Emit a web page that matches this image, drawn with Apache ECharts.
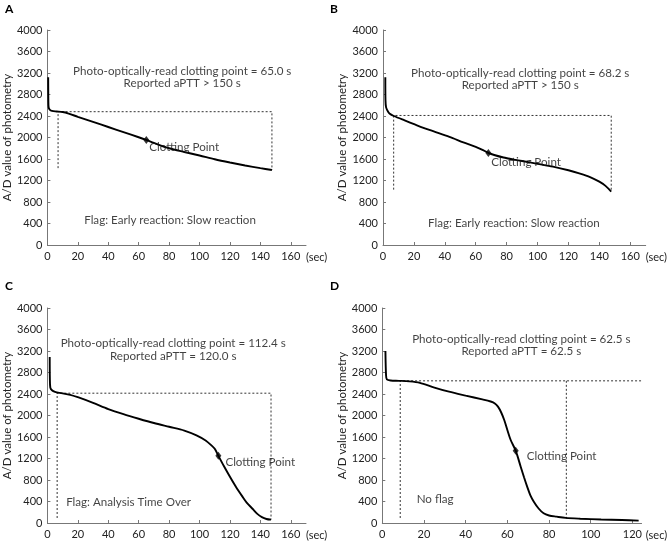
<!DOCTYPE html>
<html><head><meta charset="utf-8">
<script src="https://cdn.jsdelivr.net/npm/echarts@6/dist/echarts.min.js"></script>
<style>html,body{margin:0;padding:0;background:#fff}#c{width:668px;height:546px}</style>
</head><body><div id="c"></div>
<script>
// ---------- data ----------
var yTicks = [0, 400, 800, 1200, 1600, 2000, 2400, 2800, 3200, 3600, 4000];
var panelLabels = ['A', 'B', 'C', 'D'];
var xMax = [170, 170, 170, 124.4];

// Panel A
var timeA = [0.5, 0.6, 0.8, 1.5, 3, 6, 10, 14, 20, 30, 40, 50, 60, 65, 70, 80, 90, 100, 110, 120, 130, 140, 147.6];
var adA   = [3120, 2700, 2560, 2520, 2495, 2485, 2475, 2445, 2385, 2290, 2195, 2100, 2005, 1955, 1900, 1800, 1730, 1665, 1595, 1535, 1480, 1430, 1395];
var bracketA_x = [7, 7, 147.6, 147.6];
var bracketA_y = [1430, 2480, 2480, 1395];
var clotA = [65, 1955];
var textA = ['Photo-optically-read clotting point = 65.0 s', 'Reported aPTT > 150 s', 'Clotting Point', 'Flag: Early reaction: Slow reaction'];

// Panel B
var timeB = [1.5, 1.6, 2, 3.5, 5, 7, 14, 21, 30, 43, 52, 60, 64, 68.2, 72, 78, 85, 90, 100, 110, 120, 127, 134, 140, 144, 147.7];
var adB   = [3120, 2700, 2560, 2470, 2430, 2400, 2318, 2238, 2140, 2012, 1910, 1825, 1775, 1715, 1675, 1628, 1588, 1562, 1510, 1457, 1390, 1333, 1265, 1178, 1100, 992];
var bracketB_x = [6.9, 6.9, 147.7, 147.7];
var bracketB_y = [1030, 2410, 2410, 992];
var clotB = [68.2, 1710];
var textB = ['Photo-optically-read clotting point = 68.2 s', 'Reported aPTT > 150 s', 'Clotting Point', 'Flag: Early reaction: Slow reaction'];

// Panel C
var timeC = [1.5, 1.6, 1.9, 3, 5, 8, 15, 20, 30, 40, 50, 60, 70, 80, 90, 98, 104, 108, 110, 112.4, 116, 120, 124, 128, 131, 135, 138, 141, 144, 147];
var adC   = [3090, 2700, 2520, 2470, 2440, 2420, 2385, 2340, 2235, 2120, 2025, 1940, 1860, 1790, 1720, 1630, 1535, 1440, 1380, 1250, 1060, 860, 670, 500, 380, 260, 170, 110, 75, 62];
var bracketC_x = [6.4, 6.4, 147, 147];
var bracketC_y = [93, 2415, 2415, 62];
var clotC = [112.4, 1250];
var textC = ['Photo-optically-read clotting point = 112.4 s', 'Reported aPTT = 120.0 s', 'Clotting Point', 'Flag: Analysis Time Over'];

// Panel D
var timeD = [1.5, 1.8, 2.2, 4, 8, 13, 18, 25, 32, 40, 48, 52, 54, 55.5, 57, 58.5, 60, 61.6, 64, 66.4, 68, 69.5, 71, 72.7, 75, 77.4, 80, 83.6, 88, 95, 105, 115, 123];
var adD   = [3200, 2750, 2670, 2650, 2645, 2635, 2608, 2520, 2443, 2370, 2300, 2260, 2225, 2165, 2060, 1916, 1730, 1544, 1345, 1048, 850, 676, 520, 397, 270, 180, 140, 118, 95, 80, 65, 55, 45];
var bracketD_x = [8.6, 8.6, 124.4, null, 88.3, 88.3];
var bracketD_y = [93, 2645, 2645, null, 2645, 80];
var clotD = [64, 1345];
var textD = ['Photo-optically-read clotting point = 62.5 s', 'Reported aPTT = 62.5 s', 'Clotting Point', 'No flag'];

// text anchor positions in data units: [header x, header y, clot label x, clot label y, flag x, flag y]
var anchorA = [88.6, 3120, 67, 1817, 80.6, 453];
var anchorB = [88.8, 3080, 70, 1538, 84.7, 403];
var anchorC = [82.7, 3224, 117, 1128, 12.3, 384];
var anchorD = [66.7, 3308, 69.3, 1240, 16.5, 434];
var flagAlign = ['center', 'center', 'left', 'left'];

// ---------- chart ----------
var FONT = 'Lato';
var grids = [
  {left: 42, top: 30, width: 264, height: 215},
  {left: 383, top: 30, width: 263, height: 215},
  {left: 43, top: 308, width: 263, height: 215},
  {left: 382.3, top: 308, width: 264.4, height: 215}
];
function pairs(xs, ys) {
  return xs.map(function (x, i) { return x === null ? '-' : [x, ys[i]]; });
}
var panels = [
  {t: timeA, v: adA, bx: bracketA_x, by: bracketA_y, clot: clotA, text: textA, anc: anchorA},
  {t: timeB, v: adB, bx: bracketB_x, by: bracketB_y, clot: clotB, text: textB, anc: anchorB},
  {t: timeC, v: adC, bx: bracketC_x, by: bracketC_y, clot: clotC, text: textC, anc: anchorC},
  {t: timeD, v: adD, bx: bracketD_x, by: bracketD_y, clot: clotD, text: textD, anc: anchorD}
];
var xAxes = [], yAxes = [], series = [], graphics = [];
panels.forEach(function (p, i) {
  xAxes.push({
    type: 'value', gridIndex: i, min: 0, max: xMax[i], interval: 20,
    name: '(sec)', nameLocation: 'end', nameGap: i === 3 ? 2 : 0,
    nameTextStyle: {fontFamily: FONT, fontSize: 11, color: '#222', verticalAlign: 'top', align: 'left', padding: [7, 0, 0, 0]},
    axisLine: {show: true, onZero: false, lineStyle: {color: '#777', width: 1}},
    axisTick: {show: true, inside: true, length: 3, lineStyle: {color: '#777'}},
    axisLabel: {fontFamily: FONT, fontSize: 11, color: '#222', margin: 6, showMaxLabel: false},
    splitLine: {show: false}
  });
  yAxes.push({
    type: 'value', gridIndex: i, min: 0, max: 4000, interval: 400,
    name: 'A/D value of photometry', nameLocation: 'middle', nameGap: 31,
    nameTextStyle: {fontFamily: FONT, fontSize: 11.5, color: '#222'},
    axisLine: {show: true, lineStyle: {color: '#777', width: 1}},
    axisTick: {show: true, inside: true, length: 3, lineStyle: {color: '#777'}},
    axisLabel: {fontFamily: FONT, fontSize: 11, color: '#222', margin: 5,
      formatter: function (v) { return yTicks.indexOf(v) >= 0 ? String(v) : ''; }},
    splitLine: {show: false}
  });
  series.push({
    type: 'line', xAxisIndex: i, yAxisIndex: i, data: pairs(p.bx, p.by),
    showSymbol: false, connectNulls: false, silent: true,
    lineStyle: {color: '#333', width: 1, type: [2, 2]}, z: 2
  });
  series.push({
    type: 'line', xAxisIndex: i, yAxisIndex: i, data: pairs(p.t, p.v),
    showSymbol: false, smooth: 0.3, silent: true,
    lineStyle: {color: '#000', width: 1.9}, z: 3
  });
  series.push({
    type: 'scatter', xAxisIndex: i, yAxisIndex: i, data: [p.clot],
    symbol: 'diamond', symbolSize: [6, 8], itemStyle: {color: '#000'}, silent: true, z: 4
  });
  var lbl = function (txt, align) {
    return {show: true, formatter: txt, position: 'inside', align: align, verticalAlign: 'middle',
      fontFamily: FONT, fontSize: 11.6, color: '#111', lineHeight: 12.5};
  };
  series.push({
    type: 'scatter', xAxisIndex: i, yAxisIndex: i, symbolSize: 0, silent: true, z: 5,
    data: [
      {value: [p.anc[0], p.anc[1]], label: lbl(p.text[0] + '\n' + p.text[1], 'center')},
      {value: [p.anc[2], p.anc[3]], label: lbl(p.text[2], 'left')},
      {value: [p.anc[4], p.anc[5]], label: lbl(p.text[3], flagAlign[i])}
    ]
  });
});
var labelPos = [[5, 3], [330, 3], [5, 280], [330, 280]];
panelLabels.forEach(function (l, i) {
  graphics.push({type: 'text', left: labelPos[i][0], top: labelPos[i][1],
    style: {text: l, font: 'bold 12px ' + FONT, fill: '#000'}});
});
var chart = echarts.init(document.getElementById('c'), null, {renderer: 'canvas'});
chart.setOption({
  animation: false, backgroundColor: '#fff',
  grid: grids, xAxis: xAxes, yAxis: yAxes, series: series, graphic: graphics
});
</script></body></html>
